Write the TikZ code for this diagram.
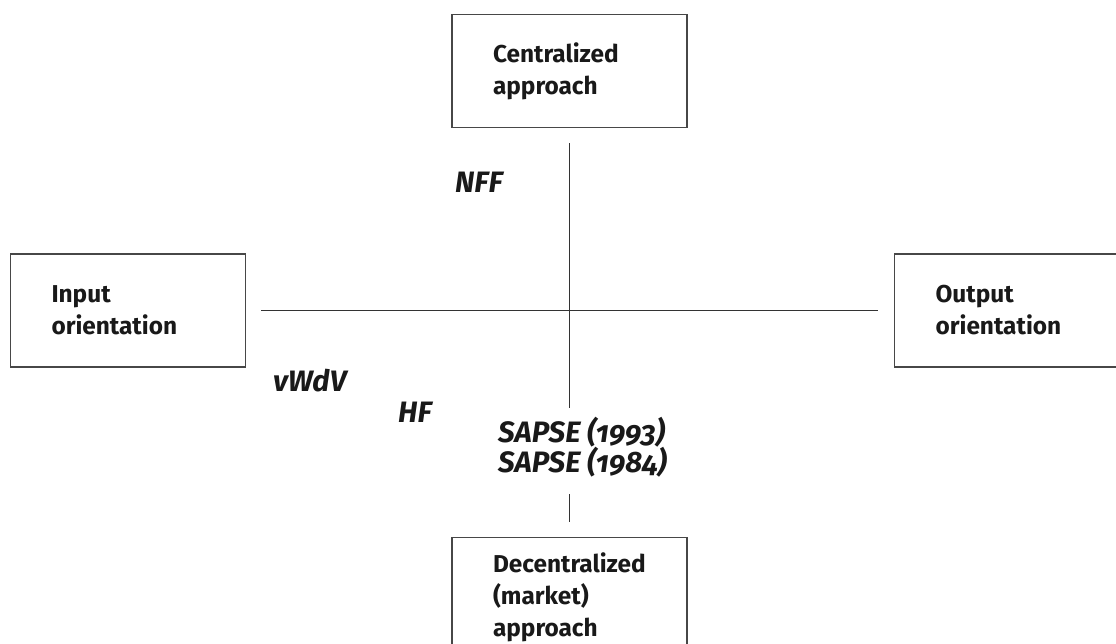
\documentclass[tikz,border=0pt]{standalone}
\usepackage{fontspec}
\setmainfont{Fira Sans}[Numbers=OldStyle]
\usetikzlibrary{positioning,calc}

\tikzset{
  frame/.style={draw=black!72, line width=1.2pt, minimum width=235pt, minimum height=113pt,
    text width=153pt, inner xsep=41pt, align=left, text=black!90,
    font=\bfseries\fontsize{24.4}{32}\selectfont},
  study/.style={inner sep=0pt, anchor=base west, text=black!90,
    font=\bfseries\itshape\fontsize{29.5}{30}\selectfont},
  axis/.style={draw=black!80, line width=1.1pt}
}

\begin{document}
\begin{tikzpicture}[x=1pt,y=-1pt]
  \useasboundingbox (0,0) rectangle (1116,643);
  \clip (0,0) rectangle (1116,643);

  % boxes
  \node[frame] (cen) at (569.5,71) {Centralized\\approach};
  \node[frame] (inp) at (128,310.5) {Input\\orientation};
  \node[frame, anchor=west] (outp) at (894,310.5) {Output\\orientation};
  \node[frame, anchor=north, minimum height=120pt] (dec) at (569.5,537) {Decentralized\\(market)\\approach};

  % studies
  \node[study] (nff) at (455,192) {NFF};
  \node[study] (vwdv) at (273,391) {vWdV};
  \node[study] (hf) at (398,422) {HF};
  \node[study] (sap93) at (498,442) {SAPSE (1993)};
  \node[study] (sap84) at (498,472) {SAPSE (1984)};

  % axes
  \draw[axis] ([xshift=15pt]inp.east) -- ([xshift=-16pt]outp.west);
  \draw[axis] ([yshift=-15pt]cen.south) -- ([yshift=34pt]cen.south |- sap93.base);
  \draw[axis] ([yshift=-22pt]dec.north |- sap84.base) -- ([yshift=15pt]dec.north);
\end{tikzpicture}
\end{document}
